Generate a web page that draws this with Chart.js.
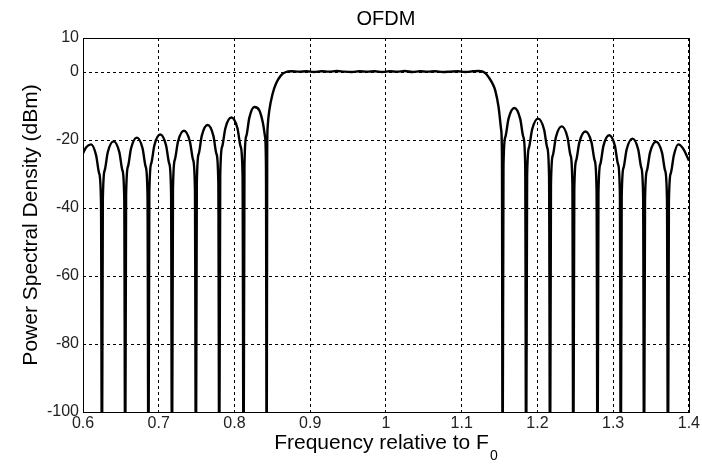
<!DOCTYPE html>
<html>
<head>
<meta charset="utf-8">
<script src="https://cdn.jsdelivr.net/npm/chart.js@4.4.0/dist/chart.umd.min.js"></script>
<style>
  body { margin: 0; background: #fff; }
  #wrap { width: 702px; height: 465px; }
</style>
</head>
<body>
<div id="wrap"><canvas id="psdChart"></canvas></div>
<script>
// OFDM spectrum, values (frequency relative to F0, PSD in dBm)
// nulls go below the axis floor and get clipped at -100
var freq = [
    0.6, 0.604, 0.6105, 0.6173, 0.6213, 0.6238, 0.625,
    0.6262, 0.6287, 0.6327, 0.6404, 0.648, 0.652, 0.6545, 0.6557,
    0.6569, 0.6594, 0.6634, 0.6711, 0.6787, 0.6827, 0.6852, 0.6864,
    0.6876, 0.6901, 0.6942, 0.702, 0.7097, 0.7138, 0.7163, 0.7175,
    0.7188, 0.7213, 0.7254, 0.7333, 0.7412, 0.7453, 0.7478, 0.7491,
    0.7503, 0.7528, 0.7568, 0.7645, 0.7722, 0.7762, 0.7787, 0.7799,
    0.7812, 0.7838, 0.7879, 0.7959, 0.804, 0.8081, 0.8107, 0.812,
    0.8132, 0.8157, 0.8196, 0.8263, 0.8329, 0.8373, 0.8404, 0.8416, 0.8425,
    0.8432, 0.8438, 0.846, 0.8504, 0.8549, 0.8614, 0.868, 0.875,
    0.885, 0.895, 0.905, 0.915, 0.925, 0.935, 0.945, 0.955, 0.965, 0.975, 0.985, 0.995, 1.005,
    1.015, 1.025, 1.035, 1.045, 1.055, 1.065, 1.075, 1.085, 1.095, 1.105, 1.115, 1.122, 1.128,
    1.132, 1.1355, 1.1405, 1.1443, 1.1487, 1.1522, 1.1532, 1.154,
    1.1552, 1.1577, 1.1618, 1.1696, 1.1773, 1.1814, 1.1839, 1.1851,
    1.1864, 1.1889, 1.193, 1.2009, 1.2088, 1.2129, 1.2154, 1.2167,
    1.2179, 1.2204, 1.2244, 1.2321, 1.2397, 1.2437, 1.2462, 1.2474,
    1.2487, 1.2512, 1.2554, 1.2634, 1.2714, 1.2756, 1.2781, 1.2794,
    1.2806, 1.2831, 1.2871, 1.2948, 1.3024, 1.3064, 1.3089, 1.3101,
    1.3113, 1.3138, 1.3178, 1.3255, 1.3331, 1.3371, 1.3396, 1.3408,
    1.3421, 1.3446, 1.3487, 1.3566, 1.3645, 1.3686, 1.3711, 1.3724,
    1.3736, 1.3761, 1.3802, 1.386, 1.392, 1.4
];
var psd = [
    -23.9, -22.2, -21.3, -24.5, -29.8, -38.3, -125,
    -37.4, -28.9, -23.6, -20.4, -23.6, -28.9, -37.4, -125,
    -36.3, -27.8, -22.5, -19.3, -22.5, -27.8, -36.3, -125,
    -35.4, -26.9, -21.6, -18.4, -21.6, -26.9, -35.4, -125,
    -34.3, -25.8, -20.5, -17.3, -20.5, -25.8, -34.3, -125,
    -32.6, -24.1, -18.8, -15.6, -18.8, -24.1, -32.6, -125,
    -30.4, -21.9, -16.6, -13.4, -16.6, -21.9, -30.4, -125,
    -27.3, -18.8, -13.5, -10.3, -11.3, -14.7, -19.1, -28, -125,
    -24, -16.2, -11.3, -6.4, -3.4, -1.0, 0.0, 0.2,
    0.1, 0.2, 0.0, 0.2, 0.1, 0.3, 0.1, 0.0, 0.2, 0.1, 0.2, 0.0, 0.2,
    0.1, 0.3, 0.0, 0.2, 0.1, 0.2, 0.0, 0.1, 0.2, 0.0, 0.2, 0.3, 0.1,
    -0.5, -1.5, -3.3, -5.4, -10.3, -17.1, -25, -125,
    -27.6, -19.1, -13.8, -10.6, -13.8, -19.1, -27.6, -125,
    -30.7, -22.2, -16.9, -13.7, -16.9, -22.2, -30.7, -125,
    -33, -24.5, -19.2, -16.0, -19.2, -24.5, -33, -125,
    -34.5, -26, -20.7, -17.5, -20.7, -26, -34.5, -125,
    -35.6, -27.1, -21.8, -18.6, -21.8, -27.1, -35.6, -125,
    -36.6, -28.1, -22.8, -19.6, -22.8, -28.1, -36.6, -125,
    -37.5, -29, -23.7, -20.5, -23.7, -29, -37.5, -125,
    -38.3, -29.8, -24.5, -21.3, -22.4, -26
];

var xTicks = [0.6, 0.7, 0.8, 0.9, 1.0, 1.1, 1.2, 1.3, 1.4];
var xTickLabels = ['0.6', '0.7', '0.8', '0.9', '1', '1.1', '1.2', '1.3', '1.4'];
var yTicks = [-100, -80, -60, -40, -20, 0, 10];
var yTickLabels = ['-100', '-80', '-60', '-40', '-20', '0', '10'];

var tickFont = { family: "'Liberation Sans Narrow', 'Arial Narrow', 'Liberation Sans', Arial, sans-serif", size: 16 };
var labelFamily = "'Liberation Sans', Arial, Helvetica, sans-serif";

// solid box round the axes, title over the axes, x label with subscript 0
var frameAndTitles = {
    id: 'frameAndTitles',
    afterDraw: function(chart) {
        var ctx = chart.ctx, a = chart.chartArea;
        var cx = (a.left + a.right) / 2;
        ctx.save();
        ctx.strokeStyle = '#000';
        ctx.lineWidth = 1;
        ctx.strokeRect(Math.round(a.left) + 0.5, Math.round(a.top) + 0.5,
                       Math.round(a.right) - Math.round(a.left), Math.round(a.bottom) - Math.round(a.top));

        ctx.fillStyle = '#000';
        ctx.textBaseline = 'alphabetic';
        ctx.textAlign = 'center';
        ctx.font = '20px ' + labelFamily;
        ctx.fillText('OFDM', cx, 25);

        ctx.textAlign = 'left';
        var main = 'Frequency relative to F', sub = '0';
        ctx.font = '21px ' + labelFamily;
        var wMain = ctx.measureText(main).width;
        ctx.font = '14px ' + labelFamily;
        var wSub = ctx.measureText(sub).width;
        var x0 = cx - (wMain + wSub + 1) / 2;
        ctx.font = '21px ' + labelFamily;
        ctx.fillText(main, x0, 449);
        ctx.font = '14px ' + labelFamily;
        ctx.fillText(sub, x0 + wMain + 1, 460);
        ctx.restore();
    }
};

var ctx = document.getElementById('psdChart').getContext('2d');
var psdChart = new Chart(ctx, {
    type: 'line',
    data: {
        datasets: [{
            label: 'OFDM',
            data: freq.map(function(f, i) { return { x: f, y: psd[i] }; }),
            borderColor: '#000',
            borderWidth: 2.4,
            pointRadius: 0,
            fill: false,
            cubicInterpolationMode: 'monotone',
            clip: 0
        }]
    },
    options: {
        responsive: true,
        maintainAspectRatio: false,
        animation: false,
        layout: { padding: { left: 0, right: 12, top: 38, bottom: 0 } },
        plugins: {
            legend: { display: false },
            tooltip: { enabled: false },
            title: { display: false }
        },
        scales: {
            x: {
                type: 'linear',
                min: 0.6,
                max: 1.4,
                afterBuildTicks: function(scale) {
                    scale.ticks = xTicks.map(function(v) { return { value: v }; });
                },
                afterFit: function(scale) { scale.height = 53; },
                ticks: {
                    autoSkip: false,
                    maxRotation: 0,
                    padding: 2,
                    color: '#222',
                    font: tickFont,
                    callback: function(v) { return xTickLabels[xTicks.indexOf(v)]; }
                },
                grid: { color: '#000', lineWidth: 1, drawTicks: false },
                border: { display: false, dash: [3, 3] }
            },
            y: {
                min: -100,
                max: 10,
                afterBuildTicks: function(scale) {
                    scale.ticks = yTicks.map(function(v) { return { value: v }; });
                },
                afterFit: function(scale) { scale.width = 83; },
                ticks: {
                    autoSkip: false,
                    padding: 4,
                    color: '#222',
                    font: tickFont,
                    callback: function(v) { return yTickLabels[yTicks.indexOf(v)]; }
                },
                grid: { color: '#000', lineWidth: 1, drawTicks: false },
                border: { display: false, dash: [3, 3] },
                title: {
                    display: true,
                    text: 'Power Spectral Density (dBm)',
                    color: '#000',
                    font: { family: labelFamily, size: 21 },
                    padding: { top: 19, bottom: 0 }
                }
            }
        }
    },
    plugins: [frameAndTitles]
});
</script>
</body>
</html>
